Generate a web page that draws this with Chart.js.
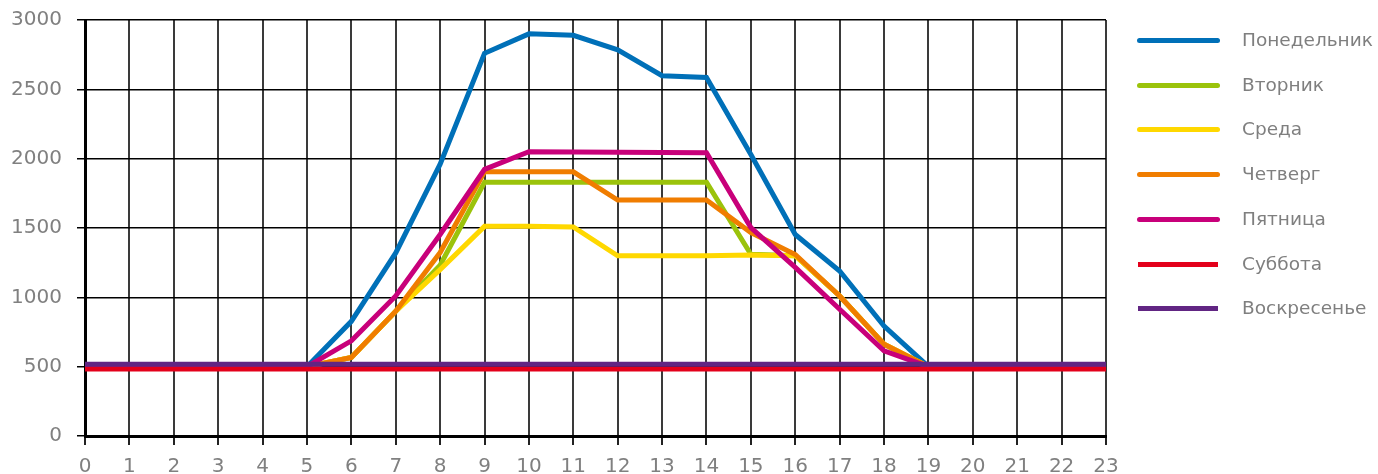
<!DOCTYPE html>
<html>
<head>
<meta charset="utf-8">
<script src="https://cdn.jsdelivr.net/npm/chart.js@4.4.1/dist/chart.umd.min.js"></script>
<style>
  html, body { margin: 0; padding: 0; background: #fff; }
  #wrap { position: relative; width: 1378px; height: 474px; }
  canvas { position: absolute; left: 0; top: 0; }
  #legend { position: absolute; left: 1137px; top: 0; font-family: 'DejaVu Sans', sans-serif; font-size: 18.5px; color: #7f7f7f; }
  .item { position: absolute; left: 0; height: 20px; white-space: nowrap; }
  .sw { position: absolute; left: 0; top: 7px; width: 83px; height: 5px; }
  .sw.round { border-radius: 3px; }
  .lbl { position: absolute; left: 105px; top: -1px; line-height: 20px; }
</style>
</head>
<body>
<div id="wrap">
  <canvas id="c" width="1378" height="474"></canvas>
  <div id="legend"></div>
</div>
<script>
const hours = ['0','1','2','3','4','5','6','7','8','9','10','11','12','13','14','15','16','17','18','19','20','21','22','23'];
const seriesNames = ['Понедельник','Вторник','Среда','Четверг','Пятница','Суббота','Воскресенье'];
const monday    = [500,500,500,500,500,500, 827,1320,1960,2760,2900,2890,2785,2598,2586,2030,1453,1190, 793,500,500,500,500,500];
const tuesday   = [500,500,500,500,500,500, 566, 900,1232,1830,1830,1830,1830,1830,1830,1310,1300,1010, 662,500,500,500,500,500];
const wednesday = [500,500,500,500,500,500, 566, 900,1200,1512,1512,1508,1300,1300,1300,1305,1300,1010, 662,500,500,500,500,500];
const thursday  = [500,500,500,500,500,500, 566, 900,1323,1905,1905,1905,1702,1702,1702,1467,1309,1010, 662,500,500,500,500,500];
const friday    = [500,500,500,500,500,500, 686,1010,1453,1923,2050,2048,2046,2045,2043,1503,1216, 914, 614,500,500,500,500,500];
const saturday  = [483,483,483,483,483,483, 483, 483, 483, 483, 483, 483, 483, 483, 483, 483, 483, 483, 483,483,483,483,483,483];
const sunday    = [517,517,517,517,517,517, 517, 517, 517, 517, 517, 517, 517, 517, 517, 517, 517, 517, 517,517,517,517,517,517];
const yTicks = [0,500,1000,1500,2000,2500,3000];

const colors = ['#0070b8','#9bc30b','#ffd800','#f07d00','#c8007a','#e3001b','#612583'];
const values = [monday,tuesday,wednesday,thursday,friday,saturday,sunday];

const datasets = values.map((v,i)=>({
  label: seriesNames[i],
  data: v,
  borderColor: colors[i],
  backgroundColor: colors[i],
  borderWidth: 5,
  pointRadius: 0,
  pointHoverRadius: 0,
  fill: false,
  tension: 0,
  order: 6 - i
}));

const tickFont = { family: 'DejaVu Sans', size: 20 };

new Chart(document.getElementById('c'), {
  type: 'line',
  data: { labels: hours, datasets },
  options: {
    responsive: false,
    animation: false,
    events: [],
    layout: { padding: { left: 0, right: 272, top: 20, bottom: 0 } },
    plugins: { legend: { display: false }, tooltip: { enabled: false } },
    scales: {
      x: {
        type: 'category',
        offset: false,
        grid: { color: '#3a3a3a', lineWidth: 2, tickLength: 9, drawTicks: true, tickColor: '#222', tickWidth: 2 },
        border: { display: true, color: '#000', width: 3 },
        ticks: { color: '#808080', font: tickFont, padding: 10, maxRotation: 0, autoSkip: false },
        afterFit: s => { s.height = 38; s.paddingLeft = 0; s.paddingRight = 0; }
      },
      y: {
        min: 0, max: 3000,
        afterBuildTicks: s => { s.ticks = yTicks.map(v => ({ value: v })); },
        grid: { color: '#000', lineWidth: 1.5, tickLength: 8, drawTicks: true },
        border: { display: true, color: '#000', width: 3 },
        ticks: { color: '#808080', font: tickFont, padding: 15, callback: v => String(v) },
        afterFit: s => { s.width = 85; s.paddingTop = 0; s.paddingBottom = 0; }
      }
    }
  }
});

const legend = document.getElementById('legend');
seriesNames.forEach((name,i)=>{
  const it = document.createElement('div');
  it.className = 'item';
  it.style.top = (31 + i*44.7) + 'px';
  const sw = document.createElement('div');
  sw.className = 'sw' + (i < 5 ? ' round' : '');
  sw.style.background = colors[i];
  if (i >= 5) { sw.style.left = '1px'; sw.style.width = '80px'; }
  const lb = document.createElement('span');
  lb.className = 'lbl';
  lb.textContent = name;
  it.appendChild(sw); it.appendChild(lb);
  legend.appendChild(it);
});
</script>
</body>
</html>
